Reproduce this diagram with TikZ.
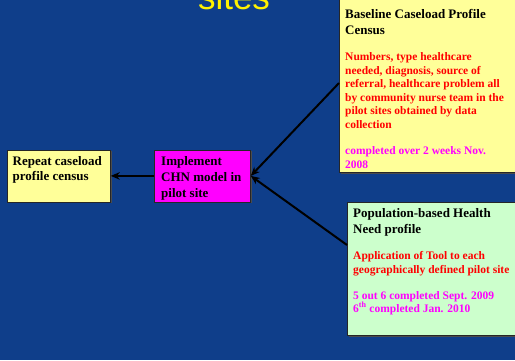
\documentclass[tikz,border=0pt]{standalone}
\usepackage{fontspec}
\setmainfont{Liberation Serif}
\newfontfamily\headfont{Liberation Sans}
\usepackage{xcolor}
\usetikzlibrary{arrows.meta,positioning,calc,shadows}
\definecolor{slideblue}{RGB}{15,62,138}
\definecolor{boxyellow}{RGB}{255,255,153}
\definecolor{boxgreen}{RGB}{204,255,204}
\definecolor{boxpink}{RGB}{255,0,255}

\begin{document}
\begin{tikzpicture}[x=1pt,y=-1pt,
  box/.style={draw=black!85,line width=0.8pt,anchor=north west,inner sep=0pt,
    drop shadow={shadow xshift=1.2pt,shadow yshift=-1.5pt,fill=black!70,opacity=1}},
  head/.style={anchor=base west,align=left,inner sep=0pt,font=\fontsize{13}{16}\selectfont\bfseries},
  body/.style={anchor=base west,align=left,inner sep=0pt,font=\fontsize{11.5}{13.6}\selectfont\bfseries},
  link/.style={-{Stealth[length=9pt,width=7.5pt]},line width=2pt}]
\path[use as bounding box,fill=slideblue] (0,0) rectangle (515,360);
\node[anchor=base,text=yellow,font=\headfont\fontsize{35}{40}\selectfont] (title) at (234,9) {sites};

% boxes
\node[box,fill=boxyellow,minimum width=186pt,minimum height=174pt] (baseline) at (339,-2) {};
\node[box,fill=boxgreen,minimum width=180pt,minimum height=133pt] (popneed) at (347,202) {};
\node[box,fill=boxyellow,minimum width=103pt,minimum height=52pt] (repeat) at (7,149.5) {};
\node[box,fill=boxpink,minimum width=96pt,minimum height=52pt] (implement) at (154,149.5) {};

% texts (anchored on the baseline of their last line)
\node[head] (baseline-head) at (345,34) {Baseline Caseload Profile\\Census};
\node[body,text=red] (baseline-body) at (345,128.5)
  {Numbers, type healthcare\\needed, diagnosis, source of\\referral, healthcare problem all\\by community nurse team in the\\pilot sites obtained by data\\collection};
\node[body,text=boxpink] (baseline-date) at (345,168.1) {completed over 2 weeks Nov.\\2008};
\node[head] (popneed-head) at (353,233.5) {Population-based Health\\Need profile};
\node[body,text=red,font=\fontsize{11.5}{14}\selectfont\bfseries] (popneed-body) at (353,273.5)
  {Application of Tool to each\\geographically defined pilot site};
\node[body,text=boxpink,font=\fontsize{11.5}{13}\selectfont\bfseries] (popneed-date) at (353,312)
  {5 out 6 completed Sept. 2009\\6\textsuperscript{th} completed Jan. 2010};
\node[head,font=\fontsize{13}{15}\selectfont\bfseries] (repeat-text) at (12.5,180.8) {Repeat caseload\\profile census};
\node[head,font=\fontsize{13}{15.8}\selectfont\bfseries] (implement-text) at (161,197.4) {Implement\\CHN model in\\pilot site};

% arrows
\draw[link] (implement.west) -- (repeat.east);
\draw[link] ($(baseline.north west)+(0,85)$) -- (implement.east);
\draw[link] ($(popneed.north west)+(0,43)$) -- (implement.east);
\end{tikzpicture}
\end{document}
